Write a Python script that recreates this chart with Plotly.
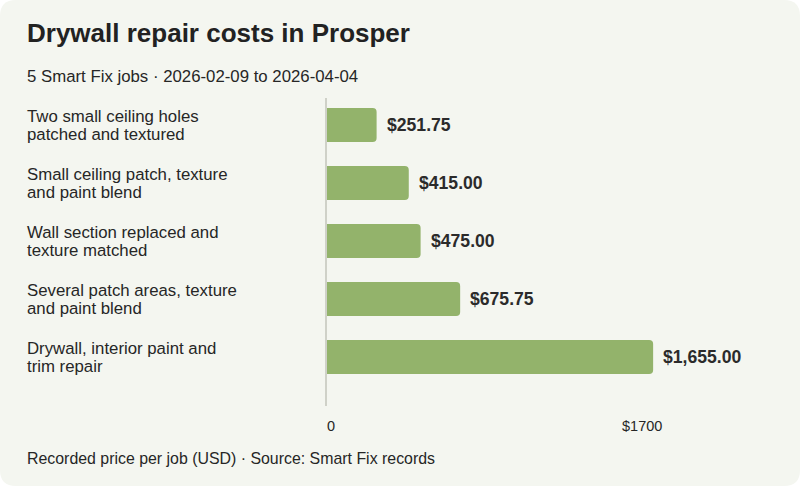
import plotly.graph_objects as go

JOBS = [
    "Two small ceiling holes<br>patched and textured",
    "Small ceiling patch, texture<br>and paint blend",
    "Wall section replaced and<br>texture matched",
    "Several patch areas, texture<br>and paint blend",
    "Drywall, interior paint and<br>trim repair",
]
PRICES = [251.75, 415.00, 475.00, 675.75, 1655.00]
TICK_VALUES = [0, 1700]
TICK_TEXT = ["0", "$1700"]

TITLE = "Drywall repair costs in Prosper"
SUBTITLE = "5 Smart Fix jobs · 2026-02-09 to 2026-04-04"
FOOTER = "Recorded price per job (USD) · Source: Smart Fix records"

W, H = 800, 486
M_L, M_R, M_T, M_B = 327, 138, 98, 80
PW, PH = W - M_L - M_R, H - M_T - M_B

CARD = "#f4f6f0"
BAR = "#93b36b"
INK = "#262626"
FONT = "Liberation Sans, Arial, sans-serif"


def px_x(x):
    return (x - M_L) / PW


def px_y(y):
    return (H - M_B - y) / PH


ypos = list(range(len(JOBS)))

fig = go.Figure(go.Bar(
    x=PRICES, y=ypos, orientation="h", width=0.586,
    marker=dict(color=BAR, cornerradius=4, line=dict(width=0)),
    hoverinfo="skip",
))

ann = []
# job labels, two lines each, left aligned at the card edge
for i, label in enumerate(JOBS):
    lines = label.split("<br>")
    for k, line in enumerate(lines):
        ann.append(dict(
            text=line, xref="paper", yref="y", x=px_x(25), y=i,
            xanchor="left", yanchor="middle", showarrow=False,
            yshift=9 - 18 * k if len(lines) == 2 else 0,
            font=dict(size=16.8, color=INK),
        ))
# value labels
for i, v in enumerate(PRICES):
    ann.append(dict(
        text=f"<b>${v:,.2f}</b>", xref="x", yref="y", x=v, y=i,
        xanchor="left", yanchor="middle", xshift=8, showarrow=False,
        font=dict(size=17.6, color="#2b2b2b"),
    ))
# flush axis labels: first left, last right
for v, t, anchor, sh in zip(TICK_VALUES, TICK_TEXT, ["left", "right"], [-2, 2]):
    ann.append(dict(
        text=t, xref="x", yref="paper", x=v, y=px_y(426),
        xanchor=anchor, yanchor="middle", xshift=sh, showarrow=False,
        font=dict(size=14.5, color=INK),
    ))
ann.append(dict(
    text=f"<b>{TITLE}</b>", xref="paper", yref="paper", x=px_x(25), y=px_y(33),
    xanchor="left", yanchor="middle", showarrow=False,
    font=dict(size=26, color="#222222"),
))
ann.append(dict(
    text=SUBTITLE, xref="paper", yref="paper", x=px_x(25), y=px_y(76),
    xanchor="left", yanchor="middle", showarrow=False,
    font=dict(size=16.8, color=INK),
))
ann.append(dict(
    text=FOOTER, xref="paper", yref="paper", x=px_x(25), y=px_y(458),
    xanchor="left", yanchor="middle", showarrow=False,
    font=dict(size=15.9, color=INK),
))

# rounded card behind everything
r = 16
x0, x1, y0, y1 = px_x(0), px_x(W), px_y(0), px_y(H)
rx, ry = r / PW, r / PH
card = (
    f"M {x0 + rx},{y0} L {x1 - rx},{y0} Q {x1},{y0} {x1},{y0 - ry} "
    f"L {x1},{y1 + ry} Q {x1},{y1} {x1 - rx},{y1} "
    f"L {x0 + rx},{y1} Q {x0},{y1} {x0},{y1 + ry} "
    f"L {x0},{y0 - ry} Q {x0},{y0} {x0 + rx},{y0} Z"
)

fig.update_layout(
    width=W, height=H,
    margin=dict(l=M_L, r=M_R, t=M_T, b=M_B),
    paper_bgcolor="#ffffff", plot_bgcolor="rgba(0,0,0,0)",
    font=dict(family=FONT, color=INK),
    showlegend=False,
    annotations=ann,
    shapes=[dict(type="path", path=card, xref="paper", yref="paper",
                 fillcolor=CARD, line=dict(width=0), layer="below")],
    xaxis=dict(range=[0, 1700], showgrid=False, zeroline=False,
               showticklabels=False, ticks="", fixedrange=True),
    yaxis=dict(range=[4.845, -0.466], showgrid=False, zeroline=False,
               showticklabels=False, ticks="", showline=True,
               linecolor="#cfd1c8", linewidth=2, fixedrange=True),
)

# page body has a default 8px margin; drop it so the card sits at 0,0
fig.write_html("out.html", config={"displayModeBar": False},
               post_script="document.body.style.margin='0';")
